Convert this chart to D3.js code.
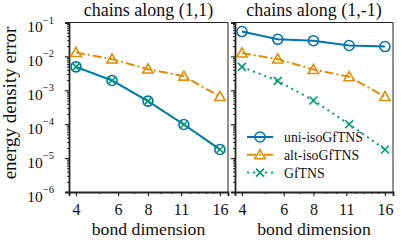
<!DOCTYPE html>
<html>
<head>
<meta charset="utf-8">
<script src="https://cdn.jsdelivr.net/npm/d3@7"></script>
<style>
  body { margin: 0; background: #fff; }
</style>
</head>
<body>
<script>
// bond dimensions (powers of sqrt 2)
const bondDims = [4, 5.66, 8, 11.31, 16];
const xTickVals = [4, 6, 8, 11, 16];
const yTickExps = [-1, -2, -3, -4, -5, -6];

// left panel: chains along (1,1)
const uni11 = [4.9e-3, 1.95e-3, 4.8e-4, 9.8e-5, 1.8e-5];
const alt11 = [1.3e-2, 8.3e-3, 4.2e-3, 2.6e-3, 6.5e-4];
const gf11  = [4.9e-3, 1.95e-3, 4.8e-4, 9.8e-5, 1.8e-5];

// right panel: chains along (1,-1)
const uni1m = [5.4e-2, 3.2e-2, 2.9e-2, 2.1e-2, 1.95e-2];
const alt1m = [1.25e-2, 8.3e-3, 4.1e-3, 2.5e-3, 6.5e-4];
const gf1m  = [4.9e-3, 1.9e-3, 5.0e-4, 1.0e-4, 1.8e-5];

const titles = ["chains along (1,1)", "chains along (1,-1)"];
const seriesNames = ["uni-isoGfTNS", "alt-isoGfTNS", "GfTNS"];

const colors = ["#0173b2", "#de8f05", "#029e73"];
const dashes = [null, "9,3,2,3", "2,4"];
const markers = ["circle", "triangle", "cross"];
const serif = "'Liberation Serif', 'Times New Roman', serif";

let canvas = d3.select("body")
            .append("svg")
            .attr("width", 405)
            .attr("height", 240);

const plotTop = 22.5, plotBottom = 192;
const panels = [
  { x0: 69, x1: 228, data: [uni11, alt11, gf11], title: titles[0], ylabels: true },
  { x0: 235, x1: 393, data: [uni1m, alt1m, gf1m], title: titles[1], ylabels: false }
];

let y = d3.scaleLog().domain([1e-6, 1e-1]).range([plotBottom, plotTop]);

let label = (sel, size) => sel.style("font-family", serif).style("font-size", size + "px")
  .attr("fill", "#111");

let drawMarker = (g, kind, cx, cy, color) => {
  if (kind === "circle") {
    g.append("circle").attr("cx", cx).attr("cy", cy).attr("r", 5)
      .attr("fill", "none").attr("stroke", color).attr("stroke-width", 1.6);
  } else if (kind === "triangle") {
    const s = 5.2;
    g.append("path")
      .attr("d", `M${cx},${cy - s} L${cx + s},${cy + s * 0.75} L${cx - s},${cy + s * 0.75} Z`)
      .attr("fill", "none").attr("stroke", color).attr("stroke-width", 1.6)
      .attr("stroke-linejoin", "miter");
  } else {
    const s = 4;
    g.append("path")
      .attr("d", `M${cx - s},${cy - s} L${cx + s},${cy + s} M${cx - s},${cy + s} L${cx + s},${cy - s}`)
      .attr("stroke", color).attr("stroke-width", 1.6);
  }
};

panels.forEach(p => {
  let x = d3.scaleLog().domain([3.74, 17.3]).range([p.x0, p.x1]);
  let g = canvas.append("g");

  // frame: thin top/right
  g.append("line").attr("x1", p.x0).attr("x2", p.x1).attr("y1", plotTop).attr("y2", plotTop)
    .attr("stroke", "#222").attr("stroke-width", 1);
  g.append("line").attr("x1", p.x1).attr("x2", p.x1).attr("y1", plotTop).attr("y2", plotBottom)
    .attr("stroke", "#222").attr("stroke-width", 1);

  // y axis
  let minorY = [];
  for (let e = -6; e < -1; e++) for (let m = 2; m <= 9; m++) minorY.push(m * Math.pow(10, e));
  let yAxis = d3.axisLeft(y).tickValues(yTickExps.map(e => Math.pow(10, e)))
    .tickSize(4).tickFormat("");
  let ya = g.append("g").attr("transform", `translate(${p.x0},0)`).call(yAxis);
  ya.selectAll("line").attr("stroke", "#222").attr("stroke-width", 1.2);
  let yMinor = d3.axisLeft(y).tickValues(minorY).tickSize(2).tickFormat("");
  let ym = g.append("g").attr("transform", `translate(${p.x0},0)`).call(yMinor);
  ym.selectAll("line").attr("stroke", "#222").attr("stroke-width", 1);
  ym.select(".domain").remove();
  ya.select(".domain").attr("stroke", "#222").attr("stroke-width", 1.8);

  if (p.ylabels) {
    yTickExps.forEach(e => {
      let t = g.append("text").attr("x", 54).attr("y", y(Math.pow(10, e)) + 9.5)
        .attr("text-anchor", "end").call(label, 15.5);
      t.append("tspan").text("10");
      t.append("tspan").attr("dy", -8.5).style("font-size", "10.5px").text("\u2212" + (-e));
    });
  }

  // x axis
  let minorX = [5, 7, 9, 10, 12, 13, 14, 15];
  let xAxis = d3.axisBottom(x).tickValues(xTickVals).tickSize(4).tickFormat(d3.format("d"));
  let xa = g.append("g").attr("transform", `translate(0,${plotBottom})`).call(xAxis);
  xa.selectAll("line").attr("stroke", "#222").attr("stroke-width", 1.2);
  xa.select(".domain").attr("stroke", "#222").attr("stroke-width", 1.8);
  xa.selectAll("text").attr("dy", 0).attr("y", 23).call(label, 16);
  let xMinor = d3.axisBottom(x).tickValues(minorX).tickSize(2).tickFormat("");
  let xm = g.append("g").attr("transform", `translate(0,${plotBottom})`).call(xMinor);
  xm.selectAll("line").attr("stroke", "#222").attr("stroke-width", 1);
  xm.select(".domain").remove();

  // series
  p.data.forEach((vals, i) => {
    let line = d3.line().x((d, j) => x(bondDims[j])).y(d => y(d));
    g.append("path").datum(vals).attr("d", line)
      .attr("fill", "none").attr("stroke", colors[i]).attr("stroke-width", 2)
      .attr("stroke-dasharray", dashes[i]);
  });
  p.data.forEach((vals, i) => {
    vals.forEach((v, j) => drawMarker(g, markers[i], x(bondDims[j]), y(v), colors[i]));
  });

  // titles
  g.append("text").attr("x", (p.x0 + p.x1) / 2).attr("y", 15.5)
    .attr("text-anchor", "middle").call(label, 18).text(p.title);
  g.append("text").attr("x", (p.x0 + p.x1) / 2).attr("y", 235)
    .attr("text-anchor", "middle").call(label, 17.7).text("bond dimension");
});

// y label
canvas.append("text").attr("transform", "translate(16,103) rotate(-90)")
  .attr("text-anchor", "middle").call(label, 19).text("energy density error");

// legend
let legend = canvas.append("g");
seriesNames.forEach((name, i) => {
  let ly = 137 + i * 17.8;
  legend.append("line").attr("x1", 247).attr("x2", 273).attr("y1", ly).attr("y2", ly)
    .attr("stroke", colors[i]).attr("stroke-width", 2).attr("stroke-dasharray", dashes[i]);
  drawMarker(legend, markers[i], 260, ly, colors[i]);
  legend.append("text").attr("x", 284).attr("y", ly + 5).call(label, 13.8).text(name);
});
</script>
</body>
</html>
